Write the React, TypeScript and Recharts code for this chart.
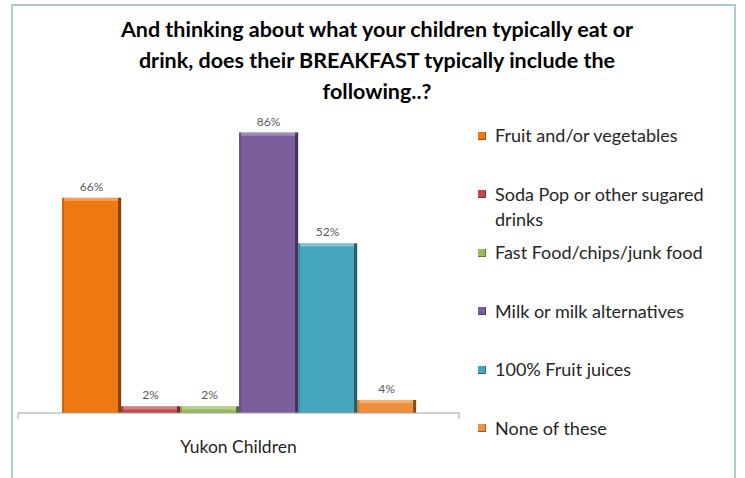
import React from 'react';
import { BarChart, Bar, XAxis, YAxis, LabelList } from 'recharts';

const categories = ['Yukon Children'];
const seriesNames = [
  'Fruit and/or vegetables',
  'Soda Pop or other sugared drinks',
  'Fast Food/chips/junk food',
  'Milk or milk alternatives',
  '100% Fruit juices',
  'None of these',
];
const seriesValues = [0.66, 0.02, 0.02, 0.86, 0.52, 0.04];
const seriesColors = ['#EF7811', '#BE4B4D', '#98BA5A', '#7C5E9C', '#48A5BE', '#EE8F3C'];
const titleLines = [
  'And thinking about what your children typically eat or',
  'drink, does their BREAKFAST typically include the',
  'following..?',
];

const data = categories.map((c) => {
  const row: Record<string, any> = { name: c };
  seriesNames.forEach((s, i) => {
    row['s' + i] = seriesValues[i];
  });
  return row;
});

const FONT = 'Lato, "Open Sans", sans-serif';

function shade(hex: string, amt: number) {
  const n = parseInt(hex.slice(1), 16);
  let r = (n >> 16) & 255, g = (n >> 8) & 255, b = n & 255;
  const f = (v: number) => Math.max(0, Math.min(255, Math.round(amt < 0 ? v * (1 + amt) : v + (255 - v) * amt)));
  r = f(r); g = f(g); b = f(b);
  return '#' + ((1 << 24) + (r << 16) + (g << 8) + b).toString(16).slice(1);
}

const BevelBar = (props: any) => {
  const { x, y, width, height, fill } = props;
  if (!height || height <= 0) return null;
  const e = Math.min(3, height / 2);
  return (
    <g>
      <rect x={x} y={y} width={width} height={height} fill={fill} />
      <rect x={x} y={y} width={width} height={e} fill={shade(fill, 0.3)} />
      <rect x={x} y={y} width={2} height={height} fill={shade(fill, -0.15)} />
      <rect x={x + width - 3} y={y} width={3} height={height} fill={shade(fill, -0.45)} />
    </g>
  );
};

const CatTick = (props: any) => {
  const { x, y, payload } = props;
  const half = payload && payload.offset ? payload.offset : 0;
  return (
    <g>
      <line x1={x - half} y1={y - 8} x2={x - half} y2={y - 2} stroke="#A0A0A0" />
      <line x1={x + half} y1={y - 8} x2={x + half} y2={y - 2} stroke="#A0A0A0" />
      <text x={x} y={y + 32} textAnchor="middle" fontFamily={FONT} fontSize={17.5} fill="#262626">
        {payload.value}
      </text>
    </g>
  );
};

const LegendBlock = () => (
  <div
    style={{
      position: 'absolute',
      left: 478,
      top: 123,
      width: 260,
      fontFamily: FONT,
      fontSize: 18,
      color: '#262626',
    }}
  >
    {seriesNames.map((s, i) => (
      <div key={s} style={{ height: 58.6, display: 'flex', alignItems: 'flex-start' }}>
        <div
          style={{
            width: 8,
            height: 8,
            marginTop: 8.5,
            background: seriesColors[i],
            boxShadow: 'inset -1px -1px 0 rgba(0,0,0,0.35)',
            flex: 'none',
          }}
        />
        <div style={{ marginLeft: 9, width: 222, lineHeight: '25px' }}>{s}</div>
      </div>
    ))}
  </div>
);

export default function App() {
  return (
    <div style={{ position: 'absolute', left: 0, top: 0, width: 745, height: 478, background: '#fff', overflow: 'hidden' }}>
      <div
        style={{
          position: 'absolute',
          left: 11,
          top: 4,
          width: 725,
          height: 500,
          border: '2px solid #AFC8CF',
          boxSizing: 'border-box',
        }}
      />
      <div
        style={{
          position: 'absolute',
          left: 0,
          top: 14,
          width: 754,
          textAlign: 'center',
          fontFamily: FONT,
          fontWeight: 700,
          fontSize: 21.5,
          lineHeight: '31px',
          color: '#000',
        }}
      >
        {titleLines.map((l) => (
          <div key={l}>{l}</div>
        ))}
      </div>
      <div style={{ position: 'absolute', left: 0, top: 0 }}>
        <BarChart
          width={745}
          height={478}
          data={data}
          margin={{ top: 87, right: 286, bottom: 0, left: 18 }}
          barCategoryGap="10%"
          barGap={0}
        >
          <XAxis
            dataKey="name"
            height={65}
            axisLine={{ stroke: '#A0A0A0' }}
            tickLine={false}
            tick={<CatTick />}
            interval={0}
          />
          <YAxis hide domain={[0, 1]} />
          {seriesNames.map((s, i) => (
            <Bar
              key={s}
              dataKey={'s' + i}
              name={s}
              fill={seriesColors[i]}
              isAnimationActive={false}
              shape={<BevelBar />}
            >
              <LabelList
                dataKey={'s' + i}
                position="top"
                offset={7}
                formatter={(v: any) => Math.round(v * 100) + '%'}
                style={{ fontFamily: FONT, fontSize: 12, fill: '#595959' }}
              />
            </Bar>
          ))}
        </BarChart>
      </div>
      <LegendBlock />
    </div>
  );
}
